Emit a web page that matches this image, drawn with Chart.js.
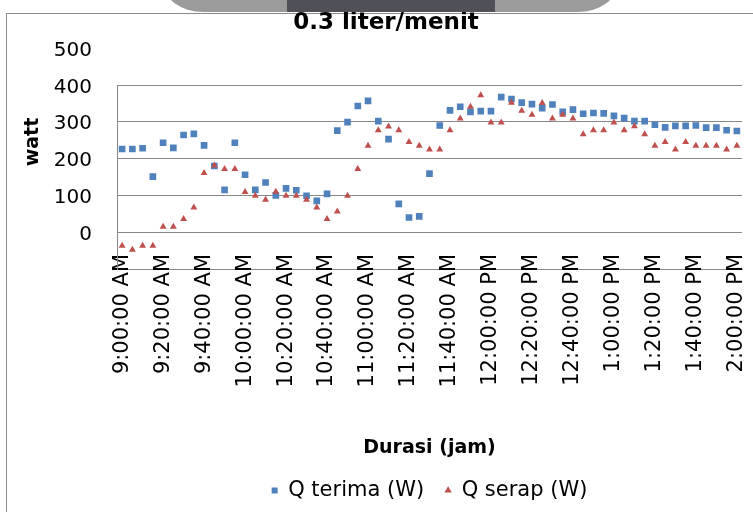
<!DOCTYPE html>
<html>
<head>
<meta charset="utf-8">
<script src="https://cdn.jsdelivr.net/npm/chart.js@4.4.1/dist/chart.umd.min.js"></script>
<style>
  html, body { margin: 0; padding: 0; background: #fff; }
  body { width: 753px; height: 512px; overflow: hidden; position: relative; }
  #frame { position: absolute; left: 6px; top: 13px; width: 800px; height: 600px; border: 1px solid #8c8c8c; z-index: 1; }
  #tabOuter { position: absolute; left: 163px; top: -30px; width: 455px; height: 42px; background: #9b9b9b;
              border-radius: 0 0 40px 40px / 0 0 30px 30px; z-index: 3; }
  #tabInner { position: absolute; left: 287px; top: 0; width: 208px; height: 12px; background: #505058; z-index: 4; }
  #chart { position: absolute; left: 0; top: 0; z-index: 2; }
</style>
</head>
<body>
<div id="frame"></div>
<div id="tabOuter"></div>
<div id="tabInner"></div>
<canvas id="chart" width="753" height="512"></canvas>
<script>
const chartTitle = "0.3 liter/menit";
const xTitle = "Durasi (jam)";
const yTitle = "watt";

// one reading every 5 minutes, 9:00 AM - 2:00 PM
const timeLabels = [
  "9:00:00 AM", "9:05:00 AM", "9:10:00 AM", "9:15:00 AM", "9:20:00 AM", "9:25:00 AM",
  "9:30:00 AM", "9:35:00 AM", "9:40:00 AM", "9:45:00 AM", "9:50:00 AM", "9:55:00 AM",
  "10:00:00 AM", "10:05:00 AM", "10:10:00 AM", "10:15:00 AM", "10:20:00 AM", "10:25:00 AM",
  "10:30:00 AM", "10:35:00 AM", "10:40:00 AM", "10:45:00 AM", "10:50:00 AM", "10:55:00 AM",
  "11:00:00 AM", "11:05:00 AM", "11:10:00 AM", "11:15:00 AM", "11:20:00 AM", "11:25:00 AM",
  "11:30:00 AM", "11:35:00 AM", "11:40:00 AM", "11:45:00 AM", "11:50:00 AM", "11:55:00 AM",
  "12:00:00 PM", "12:05:00 PM", "12:10:00 PM", "12:15:00 PM", "12:20:00 PM", "12:25:00 PM",
  "12:30:00 PM", "12:35:00 PM", "12:40:00 PM", "12:45:00 PM", "12:50:00 PM", "12:55:00 PM",
  "1:00:00 PM", "1:05:00 PM", "1:10:00 PM", "1:15:00 PM", "1:20:00 PM", "1:25:00 PM",
  "1:30:00 PM", "1:35:00 PM", "1:40:00 PM", "1:45:00 PM", "1:50:00 PM", "1:55:00 PM",
  "2:00:00 PM"
];

const qTerima = [
  326, 326, 328, 251, 343, 329, 364, 367, 336, 280, 215, 343,
  256, 215, 235, 200, 219, 214, 199, 185, 204, 376, 399, 443,
  457, 402, 353, 177, 140, 143, 259, 390, 431, 441, 427, 429,
  429, 467, 462, 452, 448, 437, 447, 427, 433, 422, 424, 423,
  416, 410, 402, 402, 392, 385, 389, 389, 390, 384, 384, 377,
  375
];

const qSerap = [
  63, 52, 63, 63, 115, 115, 136, 167, 261, 281, 272, 272,
  209, 199, 188, 210, 199, 199, 188, 167, 136, 156, 199, 272,
  335, 377, 387, 377, 345, 335, 325, 325, 377, 409, 441, 472,
  398, 398, 452, 430, 419, 451, 409, 419, 409, 366, 377, 377,
  398, 377, 388, 366, 335, 345, 325, 345, 335, 335, 335, 325,
  335
];

const yMin = 0;
const yMax = 500;
const yStep = 100;

const fontFamily = '"DejaVu Sans", sans-serif';

// title and rotated y title are placed by hand
const extraText = {
  id: 'extraText',
  afterDraw(chart) {
    const ctx = chart.ctx;
    ctx.save();
    ctx.fillStyle = '#000';
    ctx.textAlign = 'center';
    ctx.textBaseline = 'alphabetic';
    ctx.font = 'bold 23px ' + fontFamily;
    ctx.fillText(chartTitle, 386, 29);
    ctx.translate(38, 142);
    ctx.rotate(-Math.PI / 2);
    ctx.font = 'bold 19px ' + fontFamily;
    ctx.fillText(yTitle, 0, 0);
    ctx.restore();
  }
};

new Chart(document.getElementById('chart'), {
  type: 'line',
  data: {
    labels: timeLabels,
    datasets: [
      {
        label: 'Q terima (W)',
        data: qTerima,
        showLine: false,
        pointStyle: 'rect',
        pointRadius: 4.7,
        pointBorderWidth: 0,
        backgroundColor: '#4F81BD',
        borderColor: '#4F81BD',
        order: 2
      },
      {
        label: 'Q serap (W)',
        data: qSerap,
        showLine: false,
        pointStyle: 'triangle',
        pointRadius: 4,
        pointBorderWidth: 0,
        backgroundColor: '#C0504D',
        borderColor: '#C0504D',
        order: 1
      }
    ]
  },
  options: {
    responsive: false,
    animation: false,
    devicePixelRatio: 1,
    layout: { padding: { left: 5, right: 11, top: 85, bottom: 1 } },
    scales: {
      x: {
        type: 'category',
        offset: true,
        grid: { display: false, drawTicks: false },
        border: { color: '#888', width: 1 },
        ticks: {
          autoSkip: false,
          minRotation: 90,
          maxRotation: 90,
          padding: -15,
          color: '#000',
          font: { family: fontFamily, size: 21 },
          callback: (v, i) => (i % 4 === 0 ? timeLabels[i] : '')
        },
        title: {
          display: true,
          text: xTitle,
          color: '#000',
          font: { family: fontFamily, size: 19, weight: 'bold' },
          padding: 0
        },
        afterFit: (s) => {
          s.height = 190;
          // labels start above the axis line, so don't clip them to the scale box
          s._computeLabelArea = () => undefined;
        }
      },
      y: {
        min: yMin,
        max: yMax,
        grid: { color: '#888', drawTicks: false },
        border: { color: '#888', width: 1 },
        ticks: {
          stepSize: yStep,
          padding: 25,
          labelOffset: -34.5,
          color: '#000',
          font: { family: fontFamily, size: 20 }
        },
        afterFit: (s) => { s.width = 112; }
      }
    },
    plugins: {
      title: { display: false },
      tooltip: { enabled: false },
      legend: {
        position: 'bottom',
        fullSize: false,
        labels: {
          usePointStyle: true,
          boxWidth: 6,
          boxHeight: 6,
          padding: 21,
          color: '#000',
          font: { family: fontFamily, size: 21 },
          sort: (a, b) => a.datasetIndex - b.datasetIndex
        }
      }
    }
  },
  plugins: [extraText]
});
</script>
</body>
</html>
